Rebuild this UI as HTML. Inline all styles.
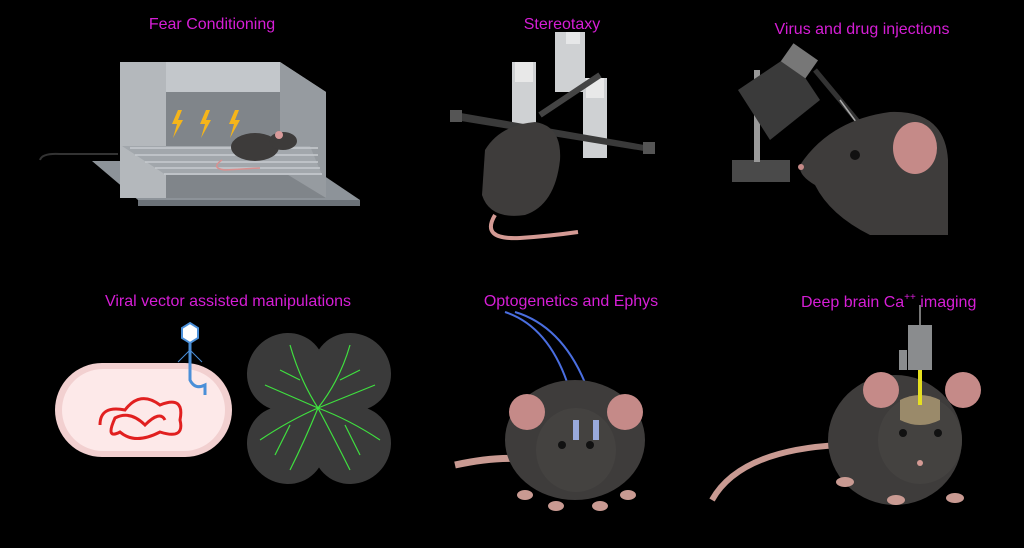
<!DOCTYPE html>
<html><head><meta charset="utf-8"><style>
html,body{margin:0;padding:0;background:#000;width:1024px;height:548px;overflow:hidden}
svg{display:block}
text{font-family:"Liberation Sans",sans-serif;font-size:16px;fill:#d61ed6}
</style></head><body>
<svg width="1024" height="548" viewBox="0 0 1024 548">
<rect width="1024" height="548" fill="#000"/>
<text x="212" y="29" text-anchor="middle">Fear Conditioning</text>
<text x="562" y="29" text-anchor="middle">Stereotaxy</text>
<text x="862" y="34" text-anchor="middle">Virus and drug injections</text>
<text x="228" y="306" text-anchor="middle">Viral vector assisted manipulations</text>
<text x="571" y="306" text-anchor="middle">Optogenetics and Ephys</text>
<text x="801" y="307">Deep brain Ca<tspan font-size="10" dy="-7">++</tspan><tspan dy="7"> imaging</tspan></text>

<!-- Fear conditioning -->
<path d="M40 160 Q42 153 60 154 L118 154" stroke="#333" stroke-width="2" fill="none"/>
<polygon points="92,161 302,161 360,200 138,200" fill="#8d9399"/>
<rect x="138" y="200" width="222" height="6" fill="#6c7278"/>
<polygon points="120,62 280,62 326,92 166,92" fill="#c3c7cb"/>
<rect x="120" y="62" width="46" height="136" fill="#b4b8bc"/>
<rect x="166" y="92" width="160" height="106" fill="#80858a"/>
<polygon points="280,62 326,92 326,198 280,170" fill="#969ba0"/>
<polygon points="122,146 310,146 322,175 166,175" fill="#a2a7ac"/>
<g stroke="#c8ccd0" stroke-width="1.5">
<line x1="130" y1="148" x2="318" y2="148"/><line x1="135" y1="155" x2="318" y2="155"/><line x1="145" y1="162" x2="318" y2="162"/><line x1="155" y1="168" x2="320" y2="168"/><line x1="164" y1="174" x2="322" y2="174"/>
</g>
<g fill="#f5b51a"><path d="M178 110 L172 124 L177 124 L173 138 L183 120 L178 120 L182 110Z"/><path d="M206 110 L200 124 L205 124 L201 138 L211 120 L206 120 L210 110Z"/><path d="M235 110 L229 124 L234 124 L230 138 L240 120 L235 120 L239 110Z"/></g>
<path d="M222 160 Q210 168 225 170 L260 168" stroke="#d89090" stroke-width="1.5" fill="none"/>
<ellipse cx="255" cy="147" rx="24" ry="14" fill="#3d3b3a"/>
<ellipse cx="283" cy="141" rx="14" ry="9" fill="#3d3b3a"/>
<circle cx="279" cy="135" r="4" fill="#d89a9a"/>

<!-- Stereotaxy -->
<rect x="555" y="32" width="30" height="60" fill="#cfd1d3"/>
<rect x="566" y="32" width="14" height="12" fill="#e6e7e8"/>
<rect x="512" y="62" width="24" height="90" fill="#cfd1d3"/>
<rect x="583" y="78" width="24" height="80" fill="#cfd1d3"/>
<rect x="515" y="62" width="18" height="20" fill="#e8e8e8"/>
<rect x="586" y="78" width="18" height="20" fill="#e8e8e8"/>
<polygon points="455,112 650,146 650,152 455,120" fill="#3a3a3a"/>
<rect x="450" y="110" width="12" height="12" fill="#555"/>
<rect x="643" y="142" width="12" height="12" fill="#555"/>
<line x1="540" y1="115" x2="600" y2="75" stroke="#444" stroke-width="6"/>
<path d="M485 150 Q500 125 535 122 Q562 126 560 160 Q555 205 525 215 Q490 220 482 195Z" fill="#3e3c3b"/>
<path d="M495 215 Q480 240 520 238 Q550 236 578 232" stroke="#d49a94" stroke-width="4" fill="none"/>

<!-- Virus injections -->
<rect x="732" y="160" width="58" height="22" fill="#4a4a4a"/>
<rect x="754" y="70" width="6" height="92" fill="#999"/>
<polygon points="738,90 790,55 820,100 770,140" fill="#3a3a3a"/>
<rect x="785" y="50" width="30" height="22" fill="#777" transform="rotate(35 800 60)"/>
<line x1="815" y1="70" x2="865" y2="130" stroke="#333" stroke-width="5"/>
<line x1="840" y1="100" x2="862" y2="130" stroke="#aaa" stroke-width="1.5"/>
<path d="M800 165 Q830 120 890 112 Q945 110 948 160 L948 235 L870 235 Q830 215 815 185 Q798 175 800 165Z" fill="#3e3c3b"/>
<ellipse cx="915" cy="148" rx="22" ry="26" fill="#c58a88"/>
<circle cx="855" cy="155" r="5" fill="#111"/>
<circle cx="801" cy="167" r="3" fill="#c58a88"/>

<!-- Bacteria -->
<rect x="55" y="363" width="177" height="94" rx="47" fill="#f2d0d0"/>
<rect x="62" y="369" width="163" height="82" rx="41" fill="#fde9e9"/>
<path d="M100 425 Q100 405 125 410 Q140 390 160 405 Q185 395 180 420 Q185 440 160 432 Q135 445 120 432 Q105 440 115 418 Q130 410 145 425 Q160 410 165 420" stroke="#e12020" stroke-width="3" fill="none"/>
<path d="M190 340 L190 380 Q195 390 205 385 L205 395" stroke="#4a8fd8" stroke-width="3" fill="none"/>
<polygon points="190,323 198,328 198,338 190,343 182,338 182,328" fill="#fff" stroke="#4a8fd8" stroke-width="2"/>
<g stroke="#4a8fd8" stroke-width="1"><line x1="190" y1="350" x2="178" y2="362"/><line x1="190" y1="350" x2="202" y2="362"/></g>

<!-- Retina -->
<g fill="#3a3a3a">
<ellipse cx="286" cy="372" rx="40" ry="38" transform="rotate(-45 286 372)"/>
<ellipse cx="352" cy="372" rx="40" ry="38" transform="rotate(45 352 372)"/>
<ellipse cx="286" cy="445" rx="40" ry="38" transform="rotate(45 286 445)"/>
<ellipse cx="352" cy="445" rx="40" ry="38" transform="rotate(-45 352 445)"/>
<rect x="280" y="370" width="76" height="76"/>
</g>
<g stroke="#3fe03f" stroke-width="1.2" fill="none">
<path d="M318 408 Q300 380 290 345 M318 408 Q340 380 350 345 M318 408 Q290 420 260 440 M318 408 Q350 420 380 440 M318 408 Q305 440 290 470 M318 408 Q335 440 350 470 M318 408 L265 385 M318 408 L375 385 M300 380 L280 370 M340 380 L360 370 M290 425 L275 455 M345 425 L360 455"/>
</g>

<!-- Opto mouse -->
<path d="M505 312 Q560 330 577 420 M515 312 Q575 330 597 420" stroke="#4a6ee0" stroke-width="2" fill="none"/>
<path d="M455 465 Q500 455 535 460" stroke="#c99a92" stroke-width="7" fill="none"/>
<ellipse cx="575" cy="440" rx="70" ry="60" fill="#3e3c3b"/>
<circle cx="527" cy="412" r="18" fill="#c58a88"/>
<circle cx="625" cy="412" r="18" fill="#c58a88"/>
<ellipse cx="576" cy="450" rx="40" ry="42" fill="#444240"/>
<circle cx="562" cy="445" r="4" fill="#111"/><circle cx="590" cy="445" r="4" fill="#111"/>
<rect x="573" y="420" width="6" height="20" fill="#9ad"/><rect x="593" y="420" width="6" height="20" fill="#9ad"/>
<g fill="#c99a92"><ellipse cx="525" cy="495" rx="8" ry="5"/><ellipse cx="556" cy="506" rx="8" ry="5"/><ellipse cx="600" cy="506" rx="8" ry="5"/><ellipse cx="628" cy="495" rx="8" ry="5"/></g>

<!-- Deep brain mouse -->
<path d="M712 500 Q740 450 840 445" stroke="#c99a92" stroke-width="6" fill="none"/>
<ellipse cx="895" cy="440" rx="67" ry="65" fill="#3e3c3b"/>
<circle cx="881" cy="390" r="18" fill="#c58a88"/>
<circle cx="963" cy="390" r="18" fill="#c58a88"/>
<ellipse cx="920" cy="440" rx="42" ry="44" fill="#444240"/>
<path d="M900 400 Q920 390 940 400 L940 420 Q920 430 900 420Z" fill="#9a8a6a"/>
<rect x="918" y="370" width="4" height="35" fill="#e6e020"/>
<rect x="908" y="325" width="24" height="45" fill="#8a8c8e"/>
<rect x="899" y="350" width="8" height="20" fill="#8a8c8e"/>
<line x1="920" y1="305" x2="920" y2="325" stroke="#777" stroke-width="2"/>
<circle cx="903" cy="433" r="4" fill="#111"/><circle cx="938" cy="433" r="4" fill="#111"/>
<circle cx="920" cy="463" r="3" fill="#d49a94"/>
<g fill="#c99a92"><ellipse cx="845" cy="482" rx="9" ry="5"/><ellipse cx="896" cy="500" rx="9" ry="5"/><ellipse cx="955" cy="498" rx="9" ry="5"/></g>
</svg>
</body></html>
